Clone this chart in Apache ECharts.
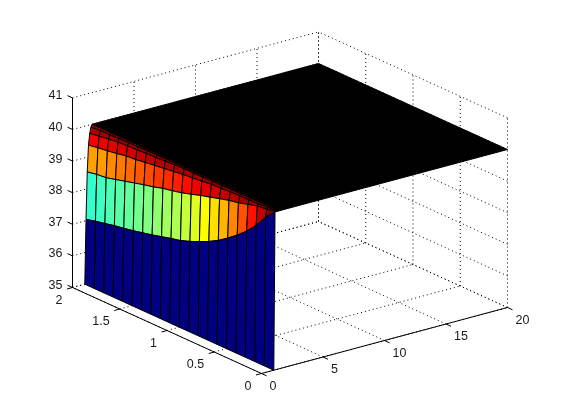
<!DOCTYPE html>
<html>
<head>
<meta charset="utf-8">
<style>
  html, body { margin: 0; background: #fff; }
  #chart { width: 561px; height: 420px; }
</style>
<script src="https://cdn.jsdelivr.net/npm/echarts@6/dist/echarts.min.js"></script>
</head>
<body>
<div id="chart"></div>
<script>
const xTicks = [0, 5, 10, 15, 20]
const yTicks = [0, 0.5, 1, 1.5, 2]
const zTicks = [35, 36, 37, 38, 39, 40, 41]

const xRows = [1, 1.1, 1.2, 1.3, 1.4, 1.5, 1.6, 20]
const yCols = [2, 1.9, 1.8, 1.7, 1.6, 1.5, 1.4, 1.3, 1.2, 1.1, 1, 0.9, 0.8, 0.7, 0.6, 0.5, 0.4, 0.3, 0.2, 0.1, 0]

const zAtX10 = [35, 35, 35, 35, 35, 35, 35, 35, 35, 35, 35, 35, 35, 35, 35, 35, 35, 35, 35, 35, 35]
const zAtX11 = [37.04, 37.12, 37.18, 37.25, 37.30, 37.36, 37.43, 37.50, 37.58, 37.66, 37.73, 37.84, 37.97, 38.11, 38.28, 38.49, 38.72, 38.98, 39.30, 39.69, 40.0]
const zAtX12 = [38.53, 38.59, 38.62, 38.70, 38.78, 38.86, 38.94, 39.01, 39.10, 39.16, 39.23, 39.32, 39.42, 39.50, 39.59, 39.67, 39.73, 39.82, 39.90, 39.94, 40.0]
const zAtX13 = [39.37, 39.42, 39.46, 39.51, 39.57, 39.59, 39.64, 39.68, 39.72, 39.76, 39.80, 39.83, 39.86, 39.90, 39.91, 39.93, 39.94, 39.95, 39.96, 39.98, 40.0]
const zAtX14 = [39.73, 39.78, 39.82, 39.86, 39.88, 39.89, 39.91, 39.92, 39.94, 39.96, 39.97, 39.97, 39.98, 39.98, 39.98, 39.99, 39.99, 39.99, 40.0, 40.0, 40.0]
const zAtX15 = [39.92, 39.94, 39.95, 39.96, 39.97, 39.97, 39.98, 39.98, 39.99, 39.99, 39.99, 39.99, 40.0, 40.0, 40.0, 40.0, 40.0, 40.0, 40.0, 40.0, 40.0]
const zAtX16 = [40, 40, 40, 40, 40, 40, 40, 40, 40, 40, 40, 40, 40, 40, 40, 40, 40, 40, 40, 40, 40]
const zAtX20 = [40, 40, 40, 40, 40, 40, 40, 40, 40, 40, 40, 40, 40, 40, 40, 40, 40, 40, 40, 40, 40]
const zRows = [zAtX10, zAtX11, zAtX12, zAtX13, zAtX14, zAtX15, zAtX16, zAtX20]

const WIDTH = 561
const HEIGHT = 420
const ZMIN = 35
const ZMAX = 41
const CMIN = 35
const CMAX = 40
const FONT = "12.5px 'Liberation Sans', Arial, sans-serif"

// fixed view of the 3d box, in pixels per data unit
const ORIGIN = [261.5, 373.5]
const X_STEP = [12.3, -3.3]
const Y_STEP = [-94.5, -43]
const Z_STEP = [0, -31.6]

function project(x, y, z) {
  const dz = z - ZMIN
  return [
    ORIGIN[0] + x * X_STEP[0] + y * Y_STEP[0] + dz * Z_STEP[0],
    ORIGIN[1] + x * X_STEP[1] + y * Y_STEP[1] + dz * Z_STEP[1]
  ]
}

function jet(v) {
  const t = Math.max(0, Math.min(1, (v - CMIN) / (CMAX - CMIN)))
  const band = (c) => Math.round(255 * Math.max(0, Math.min(1, 1.5 - Math.abs(4 * t - c))))
  return `rgb(${band(3)},${band(2)},${band(1)})`
}

const xMax = xTicks[xTicks.length - 1]
const yMax = yTicks[yTicks.length - 1]

const gridSegments = []
xTicks.forEach((x) => {
  gridSegments.push([x, 0, ZMIN, x, yMax, ZMIN])
  gridSegments.push([x, yMax, ZMIN, x, yMax, ZMAX])
})
yTicks.forEach((y) => {
  gridSegments.push([0, y, ZMIN, xMax, y, ZMIN])
  gridSegments.push([xMax, y, ZMIN, xMax, y, ZMAX])
})
zTicks.forEach((z) => {
  gridSegments.push([0, yMax, z, xMax, yMax, z])
  gridSegments.push([xMax, 0, z, xMax, yMax, z])
})

const axisSegments = [
  [0, 0, ZMIN, xMax, 0, ZMIN],
  [0, 0, ZMIN, 0, yMax, ZMIN],
  [0, yMax, ZMIN, 0, yMax, ZMAX]
]

// back rows first so the nearer faces paint over them
const cells = []
for (let i = xRows.length - 2; i >= 0; i--) {
  for (let j = 0; j < yCols.length - 1; j++) {
    cells.push([i, j])
  }
}

function segmentSeries(segments, style) {
  return {
    type: "custom",
    silent: true,
    animation: false,
    data: segments,
    renderItem(params, api) {
      const s = segments[params.dataIndex]
      const a = api.coord(project(s[0], s[1], s[2]))
      const b = api.coord(project(s[3], s[4], s[5]))
      return {
        type: "line",
        shape: { x1: a[0], y1: a[1], x2: b[0], y2: b[1] },
        style: style
      }
    }
  }
}

function tickSeries(ticks, place, tickDx, tickDy, labelDx, labelDy, align) {
  return {
    type: "custom",
    silent: true,
    animation: false,
    data: ticks,
    renderItem(params, api) {
      const tick = ticks[params.dataIndex]
      const p = place(tick)
      const a = api.coord(project(p[0], p[1], p[2]))
      return {
        type: "group",
        children: [
          {
            type: "line",
            shape: { x1: a[0], y1: a[1], x2: a[0] + tickDx, y2: a[1] + tickDy },
            style: { stroke: "#000", lineWidth: 1 }
          },
          {
            type: "text",
            style: {
              text: String(tick),
              x: a[0] + labelDx,
              y: a[1] + labelDy,
              align: align,
              verticalAlign: "middle",
              font: FONT,
              fill: "#1a1a1a"
            }
          }
        ]
      }
    }
  }
}

const surfaceSeries = {
  type: "custom",
  silent: true,
  animation: false,
  data: cells,
  renderItem(params, api) {
    const [i, j] = cells[params.dataIndex]
    const corners = [
      [xRows[i], yCols[j], zRows[i][j]],
      [xRows[i + 1], yCols[j], zRows[i + 1][j]],
      [xRows[i + 1], yCols[j + 1], zRows[i + 1][j + 1]],
      [xRows[i], yCols[j + 1], zRows[i][j + 1]]
    ]
    // the flat part has a mesh so fine that its edge lines merge into solid black
    const dense = xRows[i + 1] - xRows[i] > 1
    return {
      type: "polygon",
      shape: { points: corners.map((c) => api.coord(project(c[0], c[1], c[2]))) },
      style: {
        fill: dense ? "#000" : jet(zRows[i][j + 1]),
        stroke: "#000",
        lineWidth: 1
      }
    }
  }
}

const chart = echarts.init(document.getElementById("chart"), null, { renderer: "canvas" })
chart.setOption({
  animation: false,
  backgroundColor: "#fff",
  grid: { left: 0, right: 0, top: 0, bottom: 0 },
  xAxis: { type: "value", min: 0, max: WIDTH, show: false },
  yAxis: { type: "value", min: 0, max: HEIGHT, inverse: true, show: false },
  series: [
    segmentSeries(gridSegments, { stroke: "#000", lineWidth: 1, lineDash: [1, 3] }),
    segmentSeries(axisSegments, { stroke: "#000", lineWidth: 1 }),
    tickSeries(xTicks, (x) => [x, 0, ZMIN], 5, 2.3, 8, 13, "left"),
    tickSeries(yTicks, (y) => [0, y, ZMIN], -5.5, 1.5, -10, 13, "right"),
    tickSeries(zTicks, (z) => [0, yMax, z], -5, -2.3, -10, -2, "right"),
    surfaceSeries
  ]
})
</script>
</body>
</html>
